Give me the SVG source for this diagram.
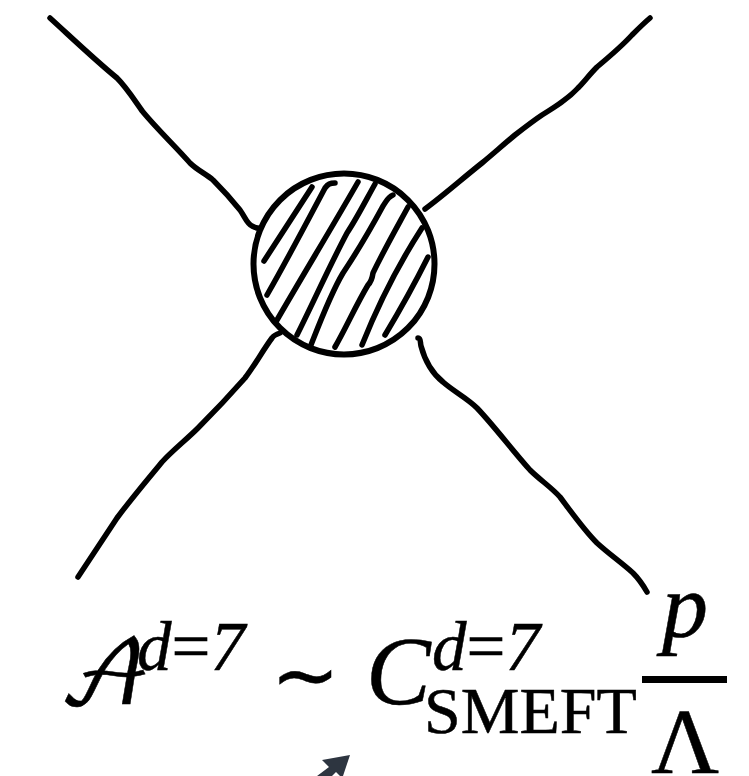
<svg xmlns="http://www.w3.org/2000/svg" width="749" height="776" viewBox="0 0 749 776">
<style>
.l{fill:none;stroke:#000;stroke-width:5.5;stroke-linecap:round;stroke-linejoin:round}
.h{fill:none;stroke:#000;stroke-width:5.5;stroke-linecap:round;stroke-linejoin:round}
.t{font-family:"Liberation Serif","Times New Roman",serif;fill:#000;stroke:#000;stroke-width:.5}
.i{font-style:italic}
</style>
<rect width="749" height="776" fill="#fff"/>
<g id="connectors">
<path class="l" d="M50 18C72 38 95 60 117 78C127 88 135 101 143 112C158 130 175 146 190 163C197 170 206 174 213 180C222 189 232 200 240 210C245 217 247 224 252 226C254 227 256 228 258 228"/>
<path class="l" d="M650 18C644 23 638 29 632 35C621 47 609 57 597 67C589 75 585 81 578 88C568 99 555 107 542 115C533 121 524 128 515 135C504 144 493 154 482 163C463 178 444 195 425 209"/>
<path class="l" d="M78 577C91 557 104 538 117 518C131 499 147 480 162 462C173 450 186 440 198 428C214 412 230 395 245 378C255 365 263 350 272 338C274 335 277 334 280 333"/>
<path class="l" d="M418 338C421 338 420 342 421 346C425 361 433 374 443 382C453 391 467 398 477 408C495 427 512 450 530 470C540 480 551 487 560 497C572 513 584 530 597 543C609 554 622 563 633 573C638 578 643 585 647 592"/>
</g>
<g id="blob">
<circle cx="344" cy="264" r="90.5" fill="#fff" stroke="#000" stroke-width="6"/>
<path class="h" d="M312 187C296 212 280 236 264 261"/>
<path class="h" d="M335 183C330 183 328 184 325 188C306 224 287 260 267 295"/>
<path class="h" d="M358 182C331 229 303 275 277 320"/>
<path class="h" d="M375 184C366 200 357 218 347 233C330 265 313 303 297 335"/>
<path class="h" d="M393 195C388 197 387 200 383 206C370 230 357 252 343 273C331 293 320 322 311 345"/>
<path class="h" d="M408 207C396 229 384 250 373 273C372 280 370 283 368 285C356 305 346 328 335 347"/>
<path class="h" d="M422 228C400 262 378 305 362 345"/>
<path class="h" d="M428 257C415 283 400 310 385 335"/>
</g>
<g id="formula">
<text class="t" x="58" y="704" font-size="88" style="font-family:'DejaVu Math TeX Gyre','Liberation Serif',serif">𝒜</text>
<text class="t i" x="137" y="670" font-size="69">d<tspan font-style="normal">=</tspan>7</text>
<text class="t" x="271" y="703" font-size="82">∼</text>
<text class="t i" x="366" y="704" font-size="97">C</text>
<text class="t i" x="432" y="670" font-size="69">d<tspan font-style="normal">=</tspan>7</text>
<text class="t" x="424" y="733" font-size="66">SMEFT</text>
<text class="t i" x="662" y="637" font-size="92">p</text>
<rect x="642" y="676" width="85" height="7" fill="#000"/>
<text class="t" x="651" y="773" font-size="94">Λ</text>
</g>
<g id="arrow">
<path d="M350 755L322 760L329 767L317 776L332 776L336 772L340 776L343 776Z" fill="#2d3540"/>
</g>
</svg>
